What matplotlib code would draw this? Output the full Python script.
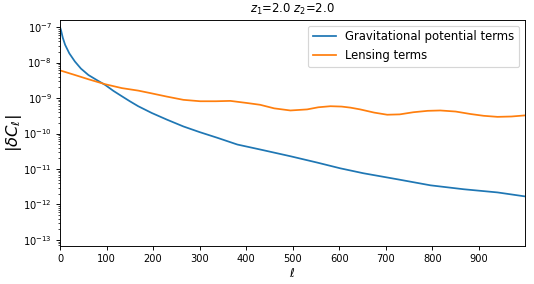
import numpy as np
import matplotlib
matplotlib.use("Agg")
import matplotlib.pyplot as plt

# Gravitational potential terms: multipole and log10|dC_l|
ell_grav = [0, 2, 6, 11, 20, 32, 45, 61, 80, 97, 115, 133, 150, 168, 197, 230,
            265, 300, 338, 381, 430, 495, 553, 602, 652, 725, 796, 867, 940, 998]
log_grav = [-7.0, -7.08, -7.30, -7.50, -7.74, -7.97, -8.17, -8.35, -8.50,
            -8.63, -8.80, -8.95, -9.09, -9.23, -9.42, -9.61, -9.80, -9.96,
            -10.12, -10.31, -10.45, -10.64, -10.82, -10.98, -11.12, -11.29,
            -11.46, -11.57, -11.66, -11.77]

# Lensing terms
ell_lens = [0, 32, 61, 97, 133, 168, 194, 230, 265, 301, 335, 366, 402, 430,
            460, 495, 531, 555, 581, 605, 624, 645, 675, 703, 730, 759, 790,
            817, 850, 882, 910, 940, 970, 998]
log_lens = [-8.22, -8.35, -8.47, -8.61, -8.72, -8.79, -8.86, -8.96, -9.05,
            -9.09, -9.09, -9.08, -9.14, -9.19, -9.29, -9.35, -9.32, -9.26,
            -9.23, -9.24, -9.27, -9.32, -9.41, -9.47, -9.46, -9.40, -9.36,
            -9.35, -9.38, -9.45, -9.50, -9.53, -9.52, -9.49]

grav = 10.0 ** np.array(log_grav)
lens = 10.0 ** np.array(log_lens)

DPI = 84
fig = plt.figure(figsize=(534/DPI, 284/DPI), dpi=DPI)
ax = fig.add_axes([60/534, 1-246/284, (525-60)/534, (246-20)/284])
ax.plot(ell_grav, grav, label="Gravitational potential terms")
ax.plot(ell_lens, lens, label="Lensing terms")
ax.set_yscale("log")
ax.set_xlim(0, 999)
ax.set_ylim(10**-13.17, 10**-6.8)
ax.set_xticks(np.arange(0, 1000, 100))
ax.tick_params(labelsize=8.5)
ax.set_xlabel(r"$\ell$", fontsize=10)
ax.xaxis.set_label_coords(0.5, (246-267)/226)
ax.set_ylabel(r"$|\delta C_\ell|$", fontsize=14)
ax.yaxis.set_label_coords((24-60)/465, 0.5)
ax.set_title(r"$z_1$=2.0 $z_2$=2.0", fontsize=10)
ax.legend(loc="upper right", fontsize=10)
fig.savefig("out.png", dpi=DPI)
